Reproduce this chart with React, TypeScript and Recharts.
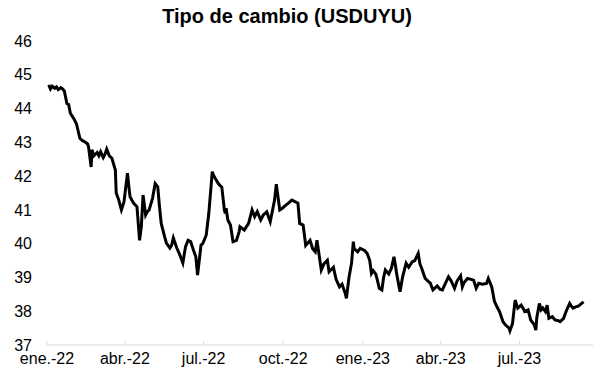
import { LineChart, Line, XAxis, YAxis } from 'recharts';

const dates = [
  '2022-01-03', '2022-01-05', '2022-01-07', '2022-01-10', '2022-01-12', '2022-01-14', '2022-01-17', '2022-01-19',
  '2022-01-21', '2022-01-24', '2022-01-26', '2022-01-28', '2022-02-01', '2022-02-04', '2022-02-08', '2022-02-11',
  '2022-02-14', '2022-02-17', '2022-02-18', '2022-02-21', '2022-02-22', '2022-02-24', '2022-02-28', '2022-03-02',
  '2022-03-04', '2022-03-07', '2022-03-09', '2022-03-11', '2022-03-14', '2022-03-17', '2022-03-21', '2022-03-22',
  '2022-03-25', '2022-03-28', '2022-03-31', '2022-04-04', '2022-04-06', '2022-04-07', '2022-04-11', '2022-04-15',
  '2022-04-18', '2022-04-20', '2022-04-22', '2022-04-25', '2022-04-27', '2022-04-29', '2022-05-03', '2022-05-06',
  '2022-05-09', '2022-05-11', '2022-05-13', '2022-05-17', '2022-05-19', '2022-05-23', '2022-05-25', '2022-05-27',
  '2022-05-31', '2022-06-03', '2022-06-07', '2022-06-10', '2022-06-13', '2022-06-16', '2022-06-20', '2022-06-22',
  '2022-06-24', '2022-06-28', '2022-06-30', '2022-07-04', '2022-07-07', '2022-07-11', '2022-07-12', '2022-07-14',
  '2022-07-18', '2022-07-20', '2022-07-22', '2022-07-25', '2022-07-26', '2022-07-27', '2022-07-29', '2022-08-01',
  '2022-08-04', '2022-08-08', '2022-08-11', '2022-08-12', '2022-08-17', '2022-08-22', '2022-08-26', '2022-08-29',
  '2022-09-01', '2022-09-05', '2022-09-08', '2022-09-12', '2022-09-16', '2022-09-21', '2022-09-23', '2022-09-27',
  '2022-09-30', '2022-10-04', '2022-10-07', '2022-10-11', '2022-10-14', '2022-10-18', '2022-10-20', '2022-10-24',
  '2022-10-27', '2022-11-01', '2022-11-04', '2022-11-07', '2022-11-09', '2022-11-14', '2022-11-17', '2022-11-21',
  '2022-11-23', '2022-11-28', '2022-12-01', '2022-12-05', '2022-12-08', '2022-12-12', '2022-12-13', '2022-12-16',
  '2022-12-19', '2022-12-21', '2022-12-22', '2022-12-26', '2022-12-29', '2023-01-03', '2023-01-06', '2023-01-09',
  '2023-01-11', '2023-01-13', '2023-01-16', '2023-01-18', '2023-01-20', '2023-01-23', '2023-01-25', '2023-01-27',
  '2023-01-31', '2023-02-03', '2023-02-06', '2023-02-08', '2023-02-09', '2023-02-13', '2023-02-16', '2023-02-20',
  '2023-02-23', '2023-02-27', '2023-03-02', '2023-03-06', '2023-03-08', '2023-03-10', '2023-03-14', '2023-03-17',
  '2023-03-20', '2023-03-23', '2023-03-28', '2023-03-31', '2023-04-03', '2023-04-06', '2023-04-10', '2023-04-13',
  '2023-04-17', '2023-04-20', '2023-04-24', '2023-04-26', '2023-04-28', '2023-05-02', '2023-05-05', '2023-05-09',
  '2023-05-12', '2023-05-15', '2023-05-19', '2023-05-24', '2023-05-26', '2023-05-30', '2023-06-02', '2023-06-05',
  '2023-06-08', '2023-06-12', '2023-06-15', '2023-06-19', '2023-06-20', '2023-06-23', '2023-06-26', '2023-06-29',
  '2023-07-03', '2023-07-06', '2023-07-07', '2023-07-11', '2023-07-14', '2023-07-18', '2023-07-20', '2023-07-21',
  '2023-07-24', '2023-07-26', '2023-07-28', '2023-07-31', '2023-08-02', '2023-08-04', '2023-08-08', '2023-08-11',
  '2023-08-15', '2023-08-17', '2023-08-21', '2023-08-24', '2023-08-28', '2023-08-30', '2023-09-01', '2023-09-04',
  '2023-09-07', '2023-09-11', '2023-09-13',
];

const usduyu = [
  44.70, 44.58, 44.66, 44.60, 44.64, 44.56, 44.62, 44.58,
  44.52, 44.15, 44.12, 43.86, 43.70, 43.55, 43.12, 43.05,
  43.01, 42.95, 42.87, 42.27, 42.78, 42.60, 42.70, 42.60,
  42.72, 42.55, 42.65, 42.80, 42.60, 42.53, 42.18, 41.50,
  41.29, 41.00, 41.24, 42.09, 41.60, 41.39, 41.20, 41.09,
  40.10, 40.50, 41.44, 40.85, 40.95, 41.00, 41.35, 41.78,
  41.68, 41.10, 40.60, 40.20, 40.02, 39.87, 39.95, 40.17,
  39.87, 39.70, 39.43, 39.90, 40.10, 40.06, 39.75, 39.61,
  39.07, 39.96, 40.00, 40.25, 40.90, 42.13, 42.05, 41.95,
  41.78, 41.72, 41.68, 41.00, 40.90, 41.05, 40.70, 40.55,
  40.06, 40.10, 40.35, 40.50, 40.40, 40.60, 41.00, 40.80,
  40.95, 40.70, 40.85, 40.94, 40.65, 41.29, 41.76, 41.00,
  41.05, 41.14, 41.20, 41.29, 41.25, 41.20, 40.60, 40.55,
  39.95, 40.10, 39.85, 39.76, 40.10, 39.22, 39.40, 39.51,
  39.17, 39.30, 38.95, 38.72, 38.80, 38.50, 38.38, 39.00,
  39.43, 40.06, 39.85, 39.76, 39.86, 39.80, 39.71, 39.50,
  39.12, 39.20, 39.10, 38.90, 38.68, 38.63, 39.00, 39.22,
  39.10, 39.27, 39.61, 39.30, 39.12, 38.58, 39.02, 39.42,
  39.30, 39.46, 39.50, 39.71, 39.40, 39.27, 38.97, 38.90,
  38.83, 38.63, 38.75, 38.65, 38.63, 38.80, 39.02, 38.90,
  38.68, 38.90, 39.05, 38.72, 38.85, 38.97, 38.95, 38.92,
  38.68, 38.83, 38.80, 38.82, 38.97, 38.72, 38.30, 38.13,
  37.99, 37.69, 37.59, 37.50, 37.42, 37.64, 38.33, 38.09,
  38.18, 38.05, 37.99, 38.04, 37.74, 37.60, 37.44, 37.80,
  38.23, 38.04, 38.10, 37.99, 38.18, 37.79, 37.84, 37.74,
  37.72, 37.69, 37.79, 38.00, 38.23, 38.15, 38.09, 38.13,
  38.15, 38.23, 38.28,
];

const tickDates = ['2022-01-01', '2022-04-01', '2022-07-01', '2022-10-01', '2023-01-01', '2023-04-01', '2023-07-01'];
const tickLabels = ['ene.-22', 'abr.-22', 'jul.-22', 'oct.-22', 'ene.-23', 'abr.-23', 'jul.-23'];
const yTicks = [37, 38, 39, 40, 41, 42, 43, 44, 45, 46];

const toTime = (d: string) => Date.parse(d + 'T00:00:00Z');

const data = dates.map((d, i) => ({ t: toTime(d), v: usduyu[i] }));
const xTicks = tickDates.map(toTime);
const FONT = '"Liberation Sans", Arial, sans-serif';

function XTick({ x, y, payload }: any) {
  const idx = xTicks.indexOf(payload.value);
  return (
    <g>
      <line x1={x} x2={x} y1={y} y2={y - 4} stroke="#d9d9d9" strokeWidth={1} />
      <text x={x} y={y + 19} textAnchor="middle" fontSize={16} fontFamily={FONT} fill="#000">
        {idx >= 0 ? tickLabels[idx] : ''}
      </text>
    </g>
  );
}

export default function App() {
  return (
    <div style={{ position: 'absolute', left: 0, top: 0, width: 612, height: 386, background: '#fff' }}>
      <div
        style={{
          position: 'absolute',
          left: 0,
          top: 5,
          width: 574,
          textAlign: 'center',
          fontFamily: FONT,
          fontWeight: 'bold',
          fontSize: 20,
          lineHeight: '23px',
          color: '#000',
        }}
      >
        Tipo de cambio (USDUYU)
      </div>
      <LineChart width={612} height={386} data={data} margin={{ top: 41, right: 19, bottom: 11, left: 0 }}>
        <XAxis
          dataKey="t"
          type="number"
          scale="time"
          domain={[toTime('2022-01-01'), toTime('2023-09-24')]}
          ticks={xTicks}
          tick={<XTick />}
          tickSize={0}
          tickMargin={0}
          height={30}
          axisLine={{ stroke: '#d9d9d9', strokeWidth: 1 }}
          tickLine={false}
          interval={0}
        />
        <YAxis
          domain={[37, 46]}
          ticks={yTicks}
          width={47}
          axisLine={false}
          tickLine={false}
          tickMargin={9}
          interval={0}
          tick={{ fontSize: 16, fontFamily: FONT, fill: '#000' }}
        />
        <Line
          type="linear"
          dataKey="v"
          stroke="#000"
          strokeWidth={3}
          dot={false}
          isAnimationActive={false}
        />
      </LineChart>
    </div>
  );
}
